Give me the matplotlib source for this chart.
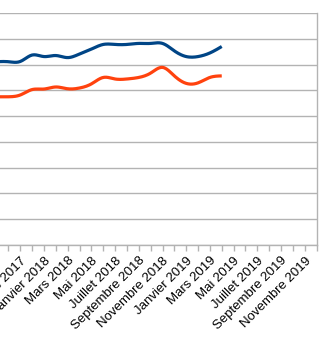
import numpy as np
import matplotlib.pyplot as plt

plt.rcParams['font.family'] = ['Liberation Sans', 'DejaVu Sans']

mois = ['Janvier', 'Février', 'Mars', 'Avril', 'Mai', 'Juin', 'Juillet',
        'Août', 'Septembre', 'Octobre', 'Novembre', 'Décembre']

# categories: Sep 2017 .. Dec 2019 (month index 0 = Sep 2017)
categories = []
for k in range(28):
    m = (8 + k) % 12
    y = 2017 + (8 + k) // 12
    categories.append(f'{mois[m]} {y}')

# series values, Sep 2017 .. Apr 2019
serie_bleue = [71.1, 71.1, 71.2, 73.7, 73.1, 73.5, 72.7, 74.1, 76.0, 77.8,
               77.8, 77.8, 78.2, 78.2, 78.2, 75.3, 73.1, 73.1, 74.5, 77.0]
serie_orange = [57.5, 57.5, 58.2, 60.3, 60.5, 61.3, 60.6, 60.9, 62.5, 65.0,
                64.4, 64.4, 65.0, 66.7, 68.9, 65.6, 62.7, 62.9, 65.0, 65.6]


def spline(xs, ys, n=12):
    # natural cubic spline, only for drawing a smooth line like the original
    xs = np.asarray(xs, float)
    ys = np.asarray(ys, float)
    k = len(xs)
    h = np.diff(xs)
    A = np.zeros((k, k))
    r = np.zeros(k)
    A[0, 0] = A[-1, -1] = 1
    for i in range(1, k - 1):
        A[i, i - 1] = h[i - 1]
        A[i, i] = 2 * (h[i - 1] + h[i])
        A[i, i + 1] = h[i]
        r[i] = 3 * ((ys[i + 1] - ys[i]) / h[i] - (ys[i] - ys[i - 1]) / h[i - 1])
    c = np.linalg.solve(A, r)
    xo, yo = [], []
    for i in range(k - 1):
        b = (ys[i + 1] - ys[i]) / h[i] - h[i] * (2 * c[i] + c[i + 1]) / 3
        d = (c[i + 1] - c[i]) / (3 * h[i])
        t = np.linspace(0, h[i], n, endpoint=False)
        xo.append(xs[i] + t)
        yo.append(ys[i] + b * t + c[i] * t ** 2 + d * t ** 3)
    xo.append([xs[-1]])
    yo.append([ys[-1]])
    return np.concatenate(xo), np.concatenate(yo)


W, H = 324, 340
fig = plt.figure(figsize=(W / 100, H / 100), dpi=100)

# plot area is cut on the left side of the picture
ppm = 11.85     # pixels per month
x0 = -3.4       # pixel of month 0
Lpx = -40
ax = fig.add_axes([Lpx / W, (H - 245) / H, (317 - Lpx) / W, (245 - 13) / H])
ax.set_xlim((Lpx - x0) / ppm, (317 - x0) / ppm)
ax.set_ylim(0, 90)

grey = '#b3b3b3'
ax.set_yticks(np.arange(0, 91, 10))
ax.yaxis.grid(True, color=grey, linewidth=1)
ax.set_axisbelow(True)
ax.tick_params(axis='y', left=False, labelleft=False)

x = np.arange(len(serie_bleue))
ax.plot(*spline(x, serie_bleue), color='#004586', linewidth=2.3,
        solid_capstyle='butt')
ax.plot(*spline(x, serie_orange), color='#ff420e', linewidth=2.3,
        solid_capstyle='butt')

ax.set_xticks(np.arange(len(categories)))
labels = [c if i % 2 == 0 else '' for i, c in enumerate(categories)]
labels = ['' if i < 2 else l for i, l in enumerate(labels)]
ax.set_xticklabels(labels, rotation=45, ha='right', rotation_mode='anchor',
                   fontsize=9.5, color='#000000')
ax.tick_params(axis='x', length=4, color=grey, width=1, pad=3)

for s in ['left', 'top']:
    ax.spines[s].set_visible(False)
for s in ['right', 'bottom']:
    ax.spines[s].set_color(grey)
    ax.spines[s].set_linewidth(1)

fig.savefig('out.png', dpi=100)
